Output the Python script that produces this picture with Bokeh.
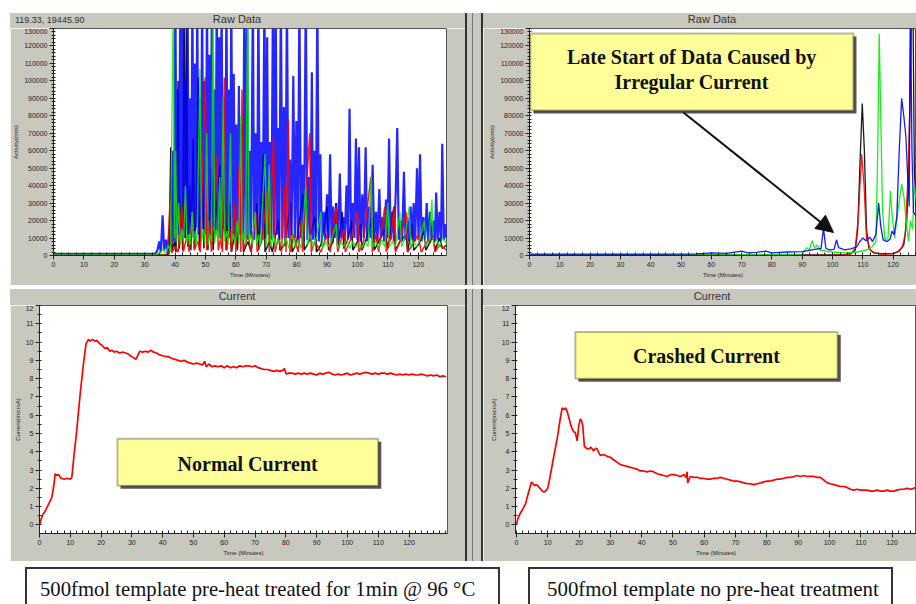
from bokeh.plotting import figure
from bokeh.layouts import row, column
from bokeh.models import (Div, Spacer, Label, BoxAnnotation, Arrow, NormalHead,
                          SingleIntervalTicker, FixedTicker, Range1d, BasicTickFormatter)
from bokeh.embed import file_html
from bokeh.resources import INLINE

# ---------------- data: raw data, pre-heat treated run (top-left) ----------------
rawA_blue_t = [0, 33.5, 34.2, 34.8, 35.3, 35.9, 36.4, 37.0, 37.6, 38.2, 38.7, 39.3, 39.7, 40.1, 40.5, 40.9, 41.3, 41.7, 42.1, 42.5, 42.9, 43.3, 43.7, 44.1, 44.5, 44.9, 45.3, 45.7, 46.1, 46.5, 46.9, 47.3, 47.7, 48.1, 48.5, 48.9, 49.3, 49.7, 50.1, 50.5, 50.9, 51.3, 51.7, 52.1, 52.5, 52.9, 53.3, 53.7, 54.1, 54.5, 54.9, 55.3, 55.7, 56.1, 56.5, 56.9, 57.3, 57.7, 58.1, 58.5, 58.9, 59.3, 59.7, 60.1, 60.5, 61.0, 61.4, 61.9, 62.3, 62.8, 63.2, 63.7, 64.1, 64.6, 65.0, 65.6, 66.0, 66.5, 67.0, 67.4, 67.9, 68.4, 68.8, 69.4, 69.8, 70.3, 70.7, 71.2, 71.7, 72.2, 72.6, 73.1, 73.5, 73.9, 74.3, 74.8, 75.3, 75.8, 76.3, 76.8, 77.3, 77.8, 78.3, 78.9, 79.4, 79.9, 80.4, 80.9, 81.4, 81.9, 82.4, 83.0, 83.5, 84.0, 84.5, 85.0, 85.4, 85.9, 86.3, 86.8, 87.3, 87.8, 88.3, 88.9, 89.4, 90.0, 90.5, 91.0, 91.5, 92.0, 92.5, 93.0, 93.6, 94.2, 94.7, 95.3, 95.8, 96.4, 96.9, 97.4, 97.9, 98.5, 99.0, 99.5, 100.0, 100.5, 101.0, 101.6, 102.1, 102.7, 103.2, 103.8, 104.3, 105.0, 105.5, 106.1, 106.6, 107.2, 107.7, 108.3, 108.8, 109.4, 109.9, 110.4, 110.9, 111.5, 112.0, 112.6, 113.1, 113.6, 114.2, 114.7, 115.3, 115.8, 116.4, 116.9, 117.5, 118.1, 118.5, 119.0, 119.6, 120.1, 120.6, 121.1, 121.7, 122.2, 122.8, 123.3, 123.9, 124.4, 125.0, 125.5, 125.9, 126.4, 127.0, 127.5, 127.9, 128.4, 129.0, 129.3]
rawA_blue_y = [1000, 1000, 3000, 8000, 2000, 23000, 3000, 9000, 2000, 15000, 5000, 60000, 8000,
               150000, 15000, 95000, 12000, 150000, 18000, 150000, 10000, 100000, 15000, 150000, 12000, 90000, 14000, 150000, 10000, 110000, 16000, 150000, 12000, 90000, 10000, 150000, 15000, 100000, 12000, 150000, 14000, 115000, 10000, 150000, 16000, 95000, 12000, 150000, 14000, 125000, 10000, 150000, 15000, 90000, 12000, 150000, 14000, 95000, 10000, 150000, 12000, 104000, 10000, 75000, 9000, 97000, 12000, 75000, 9000,
               150000, 10000, 150000, 9000, 60000, 10000, 150000, 9000, 70000, 10000, 150000, 12000, 65000, 9000, 150000, 10000, 125000, 12000, 65000, 9000, 150000, 10000, 150000, 12000, 73000, 9000, 150000, 10000, 85000, 9000, 150000, 10000, 55000, 8000, 103000, 10000, 77000, 8000, 150000, 10000, 52000, 8000, 150000, 9000, 45000, 8000, 105000, 9000, 60000, 8000, 150000, 8000, 58000, 8000,
               25000, 9000, 35000, 10000, 58000, 8000, 28000, 10000, 30000, 8000, 47000, 10000, 22000, 8000, 40000, 10000, 84000, 9000, 30000, 10000, 67000, 9000, 62000, 8000, 35000, 10000, 62000, 8000, 28000, 10000, 52000, 9000, 25000, 8000, 38000, 10000, 22000, 8000, 32000, 10000, 67000, 9000, 25000, 8000, 36000, 73000, 9000, 20000, 8000, 48000, 9000, 22000, 8000, 28000, 9000, 30000, 8000, 50000, 9000, 58000, 8000, 22000, 9000, 30000, 8000, 25000, 9000, 20000, 8000, 36000, 9000, 25000, 8000, 64000, 9000, 18000, 10000]

rawA_black_t = [0, 37.5, 38.0, 38.6, 39.0, 39.8, 40.3, 41.0, 41.4, 42.0, 42.5, 43.0, 43.4, 43.8, 44.2, 44.8, 45.2, 46.0, 46.4, 47.0, 47.6, 48.0, 49.0, 49.5, 50.3, 50.8, 52.0, 52.5, 53.2, 54.8, 55.3, 56.5, 57.0, 58.0, 58.5, 60.0, 60.5, 62.0, 62.5, 64.0, 65.0, 67.0, 67.5, 69.1, 69.6, 71.0, 72.0, 74.0, 74.5, 76.0, 78.0, 78.5, 80.0, 82.0, 82.5, 84.0, 86.0, 86.5, 88.0, 90.0, 90.5, 92.0, 93.0, 93.5, 95.0, 95.5, 97.0, 98.0, 98.5, 100.0, 101.0, 101.5, 103.0, 105.0, 105.5, 107.0, 109.0, 110.0, 112.0, 112.5, 114.0, 116.0, 116.5, 118.0, 118.5, 120.0, 122.0, 122.5, 124.0, 125.0, 125.5, 127.0, 128.0, 129.3]
rawA_black_y = [300, 300, 1000, 62000, 3000, 8000, 2000, 100000, 4000, 30000, 3000, 150000, 10000, 150000, 5000, 40000, 3000, 67000, 4000, 25000, 102000, 3000, 45000, 4000, 55000, 3000, 50000, 3000, 20000, 52000, 4000, 40000, 3000, 30000, 2000, 15000, 3000, 45000, 2000, 8000, 2000, 30000, 3000, 58000, 2000, 8000, 2000, 20000, 3000, 6000, 30000, 2000, 7000, 35000, 3000, 8000, 22000, 2000, 6000, 28000, 3000, 8000, 30000, 3000, 25000, 4000, 10000, 20000, 3000, 8000, 18000, 3000, 10000, 22000, 3000, 8000, 15000, 4000, 28000, 3000, 8000, 12000, 2000, 18000, 3000, 6000, 14000, 3000, 8000, 12000, 3000, 10000, 4000, 6000]

rawA_red_t = [0, 37.5, 38.4, 38.9, 40.0, 41.0, 42.2, 42.7, 44.0, 44.6, 45.8, 46.3, 47.5, 48.3, 49.9, 50.4, 51.2, 52.0, 53.7, 54.2, 55.0, 55.6, 56.2, 56.7, 58.0, 58.6, 59.5, 60.0, 61.1, 61.6, 62.0, 62.5, 64.0, 65.0, 66.5, 67.0, 68.5, 70.6, 71.0, 72.4, 72.9, 74.0, 75.0, 76.0, 76.5, 77.3, 77.8, 79.0, 80.5, 81.5, 82.0, 84.3, 84.8, 86.0, 88.0, 90.0, 91.0, 93.0, 93.5, 95.5, 96.0, 98.0, 100.0, 100.5, 102.0, 104.4, 104.9, 106.0, 107.0, 109.0, 109.5, 111.0, 112.0, 112.5, 114.0, 116.0, 116.5, 118.0, 120.0, 121.0, 123.0, 125.0, 125.5, 127.0, 129.3]
rawA_red_y = [200, 200, 33000, 1500, 5000, 2000, 30000, 2000, 12000, 2000, 25000, 3000, 8000, 2000, 102000, 3000, 20000, 2000, 57000, 3000, 10000, 2000, 102000, 3000, 15000, 2000, 30000, 2000, 52000, 2000, 95000, 3000, 12000, 2000, 25000, 2000, 8000, 40000, 2000, 68000, 2000, 10000, 2000, 40000, 2000, 78000, 2000, 12000, 2000, 20000, 2000, 70000, 2000, 8000, 2000, 12000, 2000, 28000, 2000, 15000, 2000, 10000, 25000, 2000, 8000, 45000, 2000, 12000, 2000, 28000, 2000, 10000, 28000, 2000, 8000, 25000, 2000, 6000, 12000, 2000, 8000, 10000, 2000, 6000, 3000]

rawA_green_t = [0, 34.0, 34.5, 35.0, 36.0, 37.0, 37.8, 38.5, 39.4, 39.8, 40.2, 40.6, 41.2, 41.7, 42.3, 42.8, 43.4, 43.9, 44.5, 45.0, 45.6, 46.1, 46.7, 47.2, 48.2, 48.7, 49.3, 49.8, 50.4, 50.9, 51.5, 52.0, 52.5, 53.0, 53.6, 54.1, 54.7, 55.2, 55.8, 56.3, 57.0, 57.5, 58.2, 58.7, 59.3, 59.8, 60.5, 61.0, 61.6, 62.1, 62.7, 63.2, 63.9, 64.3, 65.0, 65.5, 66.3, 66.8, 67.5, 68.0, 69.6, 70.1, 71.0, 71.5, 72.5, 73.0, 74.0, 75.5, 76.5, 77.5, 78.5, 79.5, 80.5, 81.5, 83.0, 83.5, 84.5, 85.5, 86.5, 88.0, 88.5, 89.5, 90.5, 91.5, 93.0, 93.5, 94.5, 95.5, 96.5, 97.5, 98.5, 99.5, 100.5, 101.5, 102.5, 103.5, 104.5, 105.0, 106.0, 107.0, 108.0, 109.0, 110.0, 110.5, 111.5, 112.5, 114.0, 114.5, 115.5, 117.0, 117.5, 118.5, 119.5, 120.5, 122.0, 122.5, 123.5, 124.5, 125.0, 126.0, 127.0, 128.0, 129.3]
rawA_green_y = [300, 300, 2000, 500, 4000, 1000, 6000, 2000, 150000, 10000, 60000, 8000, 30000, 6000, 15000, 8000, 40000, 7000, 12000, 6000, 25000, 8000, 14000, 6000, 107000, 8000, 15000, 7000, 70000, 6000, 12000, 8000, 150000, 7000, 15000, 9000, 45000, 7000, 90000, 8000, 14000, 6000, 70000, 8000, 12000, 6000, 20000, 7000, 80000, 8000, 14000, 6000, 150000, 8000, 12000, 6000, 25000, 7000, 12000, 5000, 58000, 6000, 52000, 5000, 12000, 5000, 9000, 5000, 10000, 4000, 12000, 5000, 9000, 4000, 40000, 5000, 12000, 5000, 10000, 25000, 4000, 8000, 5000, 9000, 18000, 4000, 8000, 5000, 9000, 4000, 8000, 5000, 7000, 4000, 8000, 5000, 45000, 5000, 8000, 4000, 9000, 5000, 30000, 5000, 8000, 5000, 25000, 5000, 9000, 28000, 5000, 8000, 5000, 9000, 20000, 5000, 8000, 32000, 6000, 9000, 5000, 10000, 7000]

# ---------------- data: raw data, no pre-heat run (top-right) ----------------
rawB_blue_t = [0, 20, 40, 55, 60, 65, 70, 72, 75, 78, 80, 85, 90, 92, 94, 96.2, 97.0, 97.8, 99.0, 100.5, 101.3, 102.0, 104.0, 106.0, 108.0, 109.0, 110.0, 111.0, 112.3, 113.2, 114.3, 115.2, 115.9, 116.7, 118.0, 119.0, 119.6, 120.3, 121.2, 122.0, 122.8, 123.5, 124.2, 124.8, 125.3, 125.7, 126.2, 126.7, 127.7]
rawB_blue_y = [800, 800, 800, 900, 1500, 1200, 2500, 1500, 1800, 2500, 1500, 2000, 2200, 2800, 3500, 4000, 15500, 4000, 3200, 3500, 9000, 4500, 3200, 3800, 5000, 8000, 10000, 8500, 10500, 8000, 12000, 30000, 17000, 9000, 8000, 9500, 14000, 12000, 22000, 60000, 90000, 80000, 68000, 45000, 28000, 150000, 60000, 25000, 22000]
rawB_green_t = [0, 60, 80, 90, 91.5, 92.3, 93.3, 94.0, 95.0, 96.0, 98.0, 100.0, 104.0, 108.0, 111.0, 113.0, 114.3, 114.9, 115.4, 115.9, 116.5, 117.3, 118.3, 119.1, 119.7, 120.5, 121.5, 122.8, 123.6, 124.4, 125.1, 125.7, 126.4, 127.0, 127.7]
rawB_green_y = [300, 300, 500, 800, 4500, 3000, 8500, 4500, 6000, 3000, 2500, 2000, 1500, 2000, 3000, 5000, 8000, 60000, 127000, 80000, 25000, 9000, 10000, 37000, 22000, 10000, 25000, 41000, 33000, 18000, 8000, 20000, 15000, 40000, 30000]
rawB_black_t = [0, 100, 104, 106, 107.5, 108.3, 109.0, 109.8, 110.5, 111.2, 112.0, 113.5, 116.0, 120.0, 122.0, 123.5, 124.5, 125.3, 125.9, 126.5, 127.0, 127.7]
rawB_black_y = [300, 300, 500, 1000, 3000, 15000, 50000, 87000, 60000, 15000, 4000, 1500, 1000, 1200, 2500, 6000, 20000, 60000, 150000, 150000, 48000, 25000]
rawB_red_t = [0, 100, 104, 106, 107.5, 108.5, 109.6, 110.4, 111.2, 112.5, 114.0, 116.0, 118.0, 120.0, 121.5, 123.0, 124.0, 125.0, 125.8, 126.3, 127.2, 127.7]
rawB_red_y = [100, 100, 300, 1000, 4000, 22000, 58000, 40000, 10000, 3000, 1500, 800, 800, 1000, 2000, 5000, 12000, 50000, 110000, 150000, 150000, 90000]

# ---------------- data: current traces (bottom) ----------------
curA_t = [0, 0.5, 1, 2, 3, 4, 4.6, 5.1, 5.6, 6.2, 7, 8, 9, 10, 10.5, 11.2, 12, 12.6, 13.3, 14.2, 15.1, 15.9, 16.5, 17.2, 18, 18.6, 19.6, 20.5, 21.2, 22, 22.8, 23.5, 24.3, 25, 26, 27, 28, 28.8, 29.5, 30.5, 31.3, 32, 32.6, 33.5, 34.5, 35.3, 36.2, 37, 38, 39, 40, 41, 42, 43, 44, 45, 46, 47, 48, 49, 50, 51, 52, 53, 53.6, 54.2, 55, 56, 57, 58, 59, 60, 61, 62, 63, 64, 65, 66, 67, 68, 69, 70, 71, 72, 73, 74, 75, 76, 77, 78, 79, 79.5, 80.1, 81, 82, 83, 84, 85, 86, 87, 88, 89, 90, 91, 92, 93, 94, 95, 96, 97, 98, 99, 100, 101, 102, 103, 104, 105, 106, 107, 108, 109, 110, 111, 112, 113, 114, 115, 116, 117, 118, 119, 120, 121, 122, 123, 124, 125, 126, 127, 128, 129, 130, 131, 132]
curA_v = [0.0, 0.3, 0.55, 0.8, 1.15, 1.5, 2.1, 2.8, 2.7, 2.75, 2.55, 2.5, 2.55, 2.5, 2.6, 3.8, 5.0, 6.1, 7.3, 8.7, 9.9, 10.15, 10.05, 10.15, 10.05, 10.1, 9.9, 9.8, 9.65, 9.7, 9.5, 9.55, 9.45, 9.5, 9.4, 9.45, 9.4, 9.35, 9.25, 9.15, 9.05, 9.3, 9.5, 9.45, 9.5, 9.45, 9.55, 9.45, 9.4, 9.3, 9.25, 9.2, 9.2, 9.1, 9.05, 9.0, 8.95, 9.0, 8.9, 8.85, 8.8, 8.85, 8.8, 8.75, 8.95, 8.65, 8.8, 8.65, 8.7, 8.65, 8.7, 8.6, 8.7, 8.6, 8.65, 8.6, 8.7, 8.65, 8.7, 8.7, 8.65, 8.7, 8.6, 8.55, 8.5, 8.5, 8.45, 8.4, 8.45, 8.4, 8.45, 8.55, 8.25, 8.3, 8.3, 8.25, 8.3, 8.25, 8.3, 8.25, 8.3, 8.25, 8.2, 8.3, 8.25, 8.3, 8.35, 8.25, 8.2, 8.25, 8.2, 8.25, 8.3, 8.2, 8.25, 8.3, 8.25, 8.3, 8.35, 8.3, 8.25, 8.3, 8.25, 8.3, 8.3, 8.25, 8.3, 8.25, 8.2, 8.25, 8.2, 8.25, 8.2, 8.25, 8.2, 8.2, 8.25, 8.2, 8.15, 8.2, 8.15, 8.2, 8.1, 8.15, 8.1]

curB_t = [0, 0.4, 0.8, 1.8, 2.9, 3.9, 4.8, 5.3, 5.8, 6.3, 6.8, 7.5, 8.2, 8.8, 9.3, 10.0, 10.7, 11.4, 12.2, 13.0, 13.8, 14.6, 15.1, 15.7, 16.2, 16.7, 17.3, 17.8, 18.3, 18.8, 19.4, 19.9, 20.4, 20.8, 21.2, 21.7, 22.3, 23.1, 23.8, 24.7, 25.3, 25.8, 26.3, 26.8, 27.8, 29.0, 30.0, 31.1, 32.0, 33.2, 34.3, 35.4, 36.4, 37.5, 38.5, 39.6, 40.6, 41.7, 42.8, 43.9, 45.0, 46.0, 47.0, 48.1, 49.2, 50.3, 51.4, 52.4, 53.5, 54.3, 54.5, 54.7, 55.5, 56.7, 57.8, 58.8, 59.8, 60.9, 62.0, 63.0, 64.0, 65.2, 66.2, 67.3, 68.4, 69.4, 70.5, 71.6, 72.7, 73.7, 74.8, 75.8, 76.9, 78.0, 79.0, 80.1, 81.1, 82.2, 83.2, 84.3, 85.4, 86.5, 87.5, 88.6, 89.6, 90.7, 91.8, 92.9, 94.0, 95.0, 96.1, 97.1, 98.2, 99.3, 100.3, 101.4, 102.5, 103.5, 104.6, 105.6, 106.7, 107.8, 108.8, 109.9, 111.0, 112.0, 113.1, 114.1, 115.2, 116.3, 117.3, 118.4, 119.5, 120.6, 121.6, 122.7, 123.8, 124.8, 125.9, 126.9, 127.5]
curB_v = [0.0, 0.3, 0.5, 0.8, 1.15, 1.8, 2.35, 2.25, 2.15, 2.2, 2.15, 2.0, 1.85, 1.8, 1.85, 2.0, 2.6, 3.25, 4.0, 4.7, 5.6, 6.4, 6.3, 6.4, 6.2, 5.9, 5.5, 5.25, 5.1, 5.05, 4.6, 5.4, 5.8, 5.7, 5.4, 4.3, 4.2, 4.15, 4.25, 4.05, 4.2, 4.15, 3.95, 3.8, 3.85, 3.75, 3.7, 3.55, 3.45, 3.3, 3.25, 3.2, 3.15, 3.1, 3.05, 2.95, 2.95, 2.9, 2.95, 2.9, 2.8, 2.75, 2.7, 2.65, 2.75, 2.75, 2.7, 2.65, 2.75, 2.6, 2.9, 2.3, 2.65, 2.6, 2.6, 2.55, 2.55, 2.5, 2.5, 2.55, 2.55, 2.6, 2.55, 2.5, 2.45, 2.4, 2.4, 2.35, 2.3, 2.25, 2.25, 2.2, 2.25, 2.3, 2.35, 2.4, 2.4, 2.45, 2.5, 2.5, 2.55, 2.6, 2.6, 2.65, 2.7, 2.65, 2.7, 2.65, 2.65, 2.65, 2.6, 2.6, 2.45, 2.3, 2.25, 2.2, 2.15, 2.1, 2.1, 2.05, 1.95, 1.9, 1.95, 1.9, 1.9, 1.9, 1.85, 1.85, 1.9, 1.85, 1.85, 1.9, 1.85, 1.85, 1.9, 1.95, 1.95, 2.0, 1.95, 2.0, 2.05]

x_tick_labels = list(range(0, 121, 10))
raw_y_major = 10000
cur_y_major = 1
raw_title = "Raw Data"
cur_title = "Current"
raw_ylabel = "Activity(cnts)"
cur_ylabel = "Current(microA)"
xlabel = "Time (Minutes)"
coord_text = "119.33, 19445.90"
caption_left = "500fmol template pre-heat treated for 1min @ 96 °C"
caption_right = "500fmol template no pre-heat treatment"

GRAY = "#c8c8bf"
SANS = "Liberation Sans"
SERIF = "Liberation Serif"


def panel(width, height, xr, yr, left, right, bottom, xminor_step, yinterval, yminor, ylabel):
    p = figure(width=width, height=height, x_range=Range1d(*xr), y_range=Range1d(*yr),
               output_backend="svg", toolbar_location=None,
               min_border_left=left, min_border_right=right,
               min_border_top=0, min_border_bottom=bottom)
    p.border_fill_color = GRAY
    p.background_fill_color = "white"
    p.outline_line_color = "#555555"
    p.grid.visible = False
    minor = [i * xminor_step for i in range(int(xr[1] / xminor_step) + 1)]
    p.xaxis.ticker = FixedTicker(ticks=x_tick_labels, minor_ticks=minor)
    p.yaxis.ticker = SingleIntervalTicker(interval=yinterval, num_minor_ticks=yminor)
    p.yaxis.formatter = BasicTickFormatter(use_scientific=False)
    for ax in (p.xaxis[0], p.yaxis[0]):
        ax.axis_line_color = "#222222"
        ax.major_tick_line_color = "#222222"
        ax.minor_tick_line_color = "#222222"
        ax.major_label_text_font = SANS
        ax.major_label_text_font_size = "7px"
        ax.major_label_text_color = "#222222"
        ax.axis_label_text_font = SANS
        ax.axis_label_text_font_size = "6px"
        ax.axis_label_text_font_style = "normal"
        ax.axis_label_text_color = "#222222"
        ax.major_label_standoff = 2
        ax.axis_label_standoff = 2
    p.xaxis.major_tick_out = 4
    p.xaxis.major_tick_in = 0
    p.xaxis.minor_tick_in = 3
    p.xaxis.minor_tick_out = 0
    p.yaxis.major_tick_out = 4
    p.yaxis.major_tick_in = 0
    p.yaxis.minor_tick_in = 2
    p.yaxis.minor_tick_out = 2
    p.xaxis.axis_label = xlabel
    p.yaxis.axis_label = ylabel
    return p


def header(width, height, title, center, extra=None):
    html = (f'<div style="position:relative;width:{width}px;height:{height}px;background:{GRAY};'
            f'overflow:hidden;font-family:\'{SANS}\';color:#333;">'
            f'<div style="position:absolute;left:{center - 60}px;top:{height // 2 - 8}px;width:120px;'
            f'text-align:center;font-size:11px;line-height:14px;">{title}</div>')
    if extra:
        html += (f'<div style="position:absolute;left:5px;top:{height // 2 - 6}px;font-size:9px;'
                 f'line-height:12px;white-space:nowrap;">{extra}</div>')
    html += '</div>'
    return Div(text=html, width=width, height=height, margin=0)


def callout(p, l, r, b, t, dx, dy, lines, ys, xc):
    p.add_layout(BoxAnnotation(left=l + dx, right=r + dx, bottom=b - dy, top=t - dy,
                               fill_color="#555555", fill_alpha=1, line_alpha=0))
    p.add_layout(BoxAnnotation(left=l, right=r, bottom=b, top=t, fill_color="#ffff99",
                               fill_alpha=1, line_color="#111111", line_width=2))
    for txt, yy in zip(lines, ys):
        p.add_layout(Label(x=xc, y=yy, text=txt, text_font=SERIF, text_font_size="20px",
                           text_font_style="bold", text_color="#111111",
                           text_align="center", text_baseline="middle"))


# ---- top-left: raw data (normal) ----
p1 = panel(455, 257, (0, 129.3), (0, 130000), 43, 19, 30, 2.5, raw_y_major, 5, raw_ylabel)
for t, y, c, w, a in ((rawA_black_t, rawA_black_y, "#000000", 1.5, 0.9),
                      (rawA_blue_t, rawA_blue_y, "#0000ff", 2.2, 0.85),
                      (rawA_red_t, rawA_red_y, "#ff0000", 1.5, 0.9),
                      (rawA_green_t, rawA_green_y, "#00ee00", 1.3, 0.85)):
    p1.line(t, y, line_color=c, line_width=w, line_alpha=a)

# ---- top-right: raw data (crashed) ----
p2 = panel(433, 257, (0, 127.7), (0, 130000), 46, 0, 30, 2.5, raw_y_major, 5, raw_ylabel)
for t, y, c in ((rawB_black_t, rawB_black_y, "#000000"), (rawB_red_t, rawB_red_y, "#ff0000"),
                (rawB_green_t, rawB_green_y, "#00ee00"), (rawB_blue_t, rawB_blue_y, "#0000ff")):
    p2.line(t, y, line_color=c, line_width=1.3, line_alpha=0.9)
callout(p2, 0.3, 106.9, 83000, 127100, 1.0, 1700,
        ["Late Start of Data Caused by", "Irregular Current"], [113400, 99100], 53.5)
p2.add_layout(Arrow(end=NormalHead(size=17, fill_color="#111111", line_color="#111111"),
                    x_start=50.8, y_start=81900, x_end=100.3, y_end=13200,
                    line_color="#111111", line_width=2))

# ---- bottom-left: current (normal) ----
p3 = panel(455, 256, (0, 132.5), (-0.47, 12.0), 29, 18, 28, 2, cur_y_major, 2, cur_ylabel)
p3.line(curA_t, curA_v, line_color="#ff0000", line_width=1.7)
callout(p3, 25.3, 110.0, 2.14, 4.71, 1.0, 0.16, ["Normal Current"], [3.33], 67.6)

# ---- bottom-right: current (crashed) ----
p4 = panel(433, 256, (-0.3, 127.8), (-0.47, 12.0), 32, 0, 28, 2, cur_y_major, 2, cur_ylabel)
p4.line(curB_t, curB_v, line_color="#ff0000", line_width=1.7)
callout(p4, 18.8, 102.6, 7.99, 10.55, 1.0, 0.16, ["Crashed Current"], [9.22], 60.7)


def vsep(h):
    grad = ("linear-gradient(to right, #333 0px, #333 2px, #c8c8bf 2px, #c8c8bf 7px, #777 7px, "
            "#777 8px, #c8c8bf 8px, #c8c8bf 16px, #333 16px, #333 18px)")
    return Div(text=f'<div style="width:18px;height:{h}px;background:{grad};"></div>',
               width=18, height=h, margin=0)


hsep = Div(text='<div style="width:906px;height:4px;background:linear-gradient(to bottom, #eeeee6 0px, '
                '#eeeee6 1px, #c8c8bf 1px, #c8c8bf 2px, #333 2px, #333 4px);"></div>',
           width=906, height=4, margin=0)

captions = Div(text=(
    '<div style="position:relative;width:916px;height:43px;background:white;overflow:hidden;">'
    f'<div style="position:absolute;left:25px;top:6px;width:475px;height:50px;border:2px solid #333;'
    f'box-sizing:border-box;font-family:\'{SERIF}\';font-size:20.7px;color:#111;padding-left:13px;'
    f'padding-top:6px;white-space:nowrap;">{caption_left}</div>'
    f'<div style="position:absolute;left:528px;top:6px;width:365px;height:50px;border:2px solid #333;'
    f'box-sizing:border-box;font-family:\'{SERIF}\';font-size:20.9px;color:#111;padding-left:17px;'
    f'padding-top:6px;white-space:nowrap;">{caption_right}</div></div>'),
    width=916, height=43, margin=0)

tl = column(header(455, 15, raw_title, 227, coord_text), p1, spacing=0)
tr = column(header(433, 15, raw_title, 229), p2, spacing=0)
bl = column(header(455, 16, cur_title, 227), p3, spacing=0)
br = column(header(433, 16, cur_title, 229), p4, spacing=0)

top_row = row(Spacer(width=10, height=272, margin=0), tl, vsep(272), tr, spacing=0)
mid_row = row(Spacer(width=10, height=4, margin=0), hsep, spacing=0)
bot_row = row(Spacer(width=10, height=272, margin=0), bl, vsep(272), br, spacing=0)
layout = column(Spacer(width=916, height=13, margin=0), top_row, mid_row, bot_row, captions, spacing=0)

open("out.html", "w").write(file_html(layout, INLINE))
